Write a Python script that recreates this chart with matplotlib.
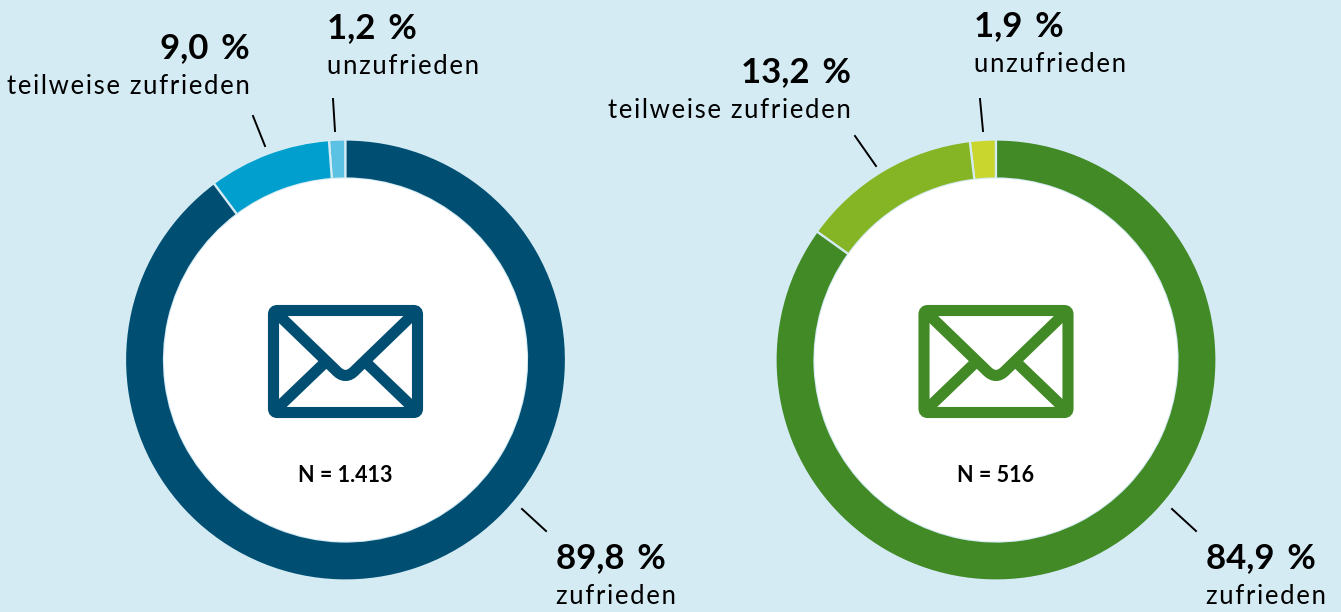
import matplotlib
matplotlib.use("Agg")
import matplotlib.pyplot as plt
from matplotlib.patches import FancyBboxPatch, PathPatch, Circle
from matplotlib.path import Path

plt.rcParams['font.family'] = ['Lato', 'DejaVu Sans']

labels = ["unzufrieden", "teilweise zufrieden", "zufrieden"]
left_values = [1.2, 9.0, 89.8]
right_values = [1.9, 13.2, 84.9]
left_text = ["1,2 %", "9,0 %", "89,8 %"]
right_text = ["1,9 %", "13,2 %", "84,9 %"]
left_n = "N = 1.413"
right_n = "N = 516"
left_colors = ['#5cc2e3', '#009fce', '#004f72']
right_colors = ['#c9d62e', '#85b525', '#428a26']
bg = '#d5ebf4'
H = 612

fig = plt.figure(figsize=(13.41, 6.12), dpi=100, facecolor=bg)
ax = fig.add_axes([0, 0, 1, 1])
ax.set_xlim(0, 1341)
ax.set_ylim(0, H)
ax.axis('off')


def spaced(s):
    # the original type is set a little wide
    return "\u200a".join(s)


def envelope(cx, cy, color):
    lw = 8
    box = FancyBboxPatch((cx - 72, H - cy - 52.5), 144, 102, boxstyle="round,pad=0,rounding_size=4",
                         facecolor='white', edgecolor=color, linewidth=lw, zorder=5)
    ax.add_patch(box)
    flap = Path([(cx - 70, H - cy + 48), (cx - 10, H - cy - 10), (cx, H - cy - 21), (cx + 10, H - cy - 10),
                 (cx + 70, H - cy + 48)],
                [Path.MOVETO, Path.LINETO, Path.CURVE3, Path.CURVE3, Path.LINETO])
    ax.add_patch(PathPatch(flap, fill=False, edgecolor=color, lw=lw, capstyle='butt', zorder=6))
    for sign in (-1, 1):
        ax.plot([cx + sign * 70, cx + sign * 20], [H - cy - 50, H - cy - 2], color=color, lw=lw,
                solid_capstyle='butt', zorder=6)


def donut(cx, values, colors, texts, n_text, lines, anchors):
    cy = 360
    ax.pie(values, colors=colors, startangle=90, center=(cx, H - cy), radius=220.5, frame=True,
           wedgeprops=dict(width=39, edgecolor=bg, linewidth=1.6))
    ax.set_xlim(0, 1341)
    ax.set_ylim(0, H)
    ax.set_aspect('auto')
    ax.axis('off')
    ax.add_patch(Circle((cx, H - cy), 181.5, facecolor='white', edgecolor='none', zorder=3))
    envelope(cx, cy, colors[2])
    ax.text(cx, H - 475, n_text, ha='center', va='center', fontsize=15.5, fontweight='bold', color='black')
    for (x0, y0, x1, y1) in lines:
        ax.plot([x0, x1], [H - y0, H - y1], color='black', lw=1.4)
    for label, text, (x, y, ha) in zip(labels, texts, anchors):
        ax.text(x, H - y, text.replace(" ", " \u200a\u200a"), ha=ha, va='center', fontsize=25,
                fontweight='bold', color='black')
        ax.text(x, H - y - 39, spaced(label), ha=ha, va='center', fontsize=18.5, color='black')


donut(345.5, left_values, left_colors, left_text, left_n,
      [(333, 99, 335, 131), (253, 116, 265, 146), (522, 509, 546, 531)],
      [(327, 28, 'left'), (250, 48, 'right'), (556, 558, 'left')])
donut(996, right_values, right_colors, right_text, right_n,
      [(980, 99, 983, 131), (855, 136, 876, 166), (1172, 509, 1196, 531)],
      [(974, 26, 'left'), (851, 72, 'right'), (1206, 558, 'left')])

fig.savefig("out.png", dpi=100, facecolor=bg)
